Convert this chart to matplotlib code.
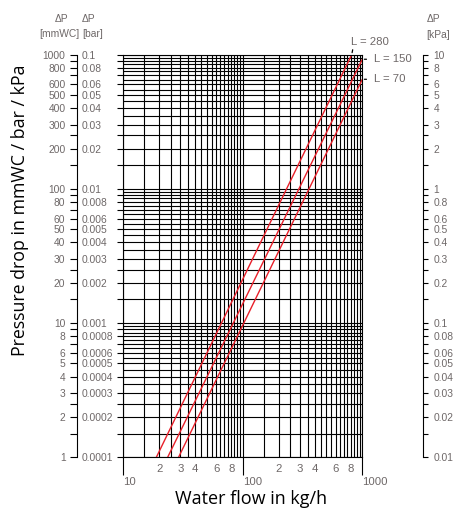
import numpy as np
import matplotlib
matplotlib.use("Agg")
import matplotlib.pyplot as plt
from matplotlib import font_manager
from matplotlib.ticker import FixedLocator, FixedFormatter, NullFormatter

# ---------------- data ----------------
series_names = ["L = 280", "L = 150", "L = 70"]
flow_L280 = [18.9, 815.0]
dp_L280 = [1.0, 1000.0]
flow_L150 = [23.5, 1000.0]
dp_L150 = [1.0, 925.0]
flow_L70 = [29.0, 1000.0]
dp_L70 = [1.0, 656.0]

x_major = [10, 100, 1000]
x_major_labels = ["10", "100", "1000"]
x_minor_labelled = [2, 3, 4, 6, 8]
grid_steps = [1, 1.5, 2, 2.5, 3, 3.5, 4, 4.5, 5, 5.5, 6, 6.5, 7, 7.5, 8, 8.5, 9, 9.5]
scale_steps = [1, 1.5, 2, 2.5, 3, 4, 5, 6, 7, 8, 9]
scale_labelled = [1, 2, 3, 4, 5, 6, 8]
mmwc_labels = ["1", "2", "3", "4", "5", "6", "8",
               "10", "20", "30", "40", "50", "60", "80",
               "100", "200", "300", "400", "500", "600", "800", "1000"]
bar_labels = ["0.0001", "0.0002", "0.0003", "0.0004", "0.0005", "0.0006", "0.0008",
              "0.001", "0.002", "0.003", "0.004", "0.005", "0.006", "0.008",
              "0.01", "0.02", "0.03", "0.04", "0.05", "0.06", "0.08", "0.1"]
kpa_labels = ["0.01", "0.02", "0.03", "0.04", "0.05", "0.06", "0.08",
              "0.1", "0.2", "0.3", "0.4", "0.5", "0.6", "0.8",
              "1", "2", "3", "4", "5", "6", "8", "10"]

# ---------------- style ----------------
names = {f.name for f in font_manager.fontManager.ttflist}
tick_font = "Liberation Sans" if "Liberation Sans" in names else "DejaVu Sans"
title_font = "Open Sans" if "Open Sans" in names else "DejaVu Sans"
GRAY = "#6e6868"
RED = "#e8202a"
TFS = 7.4

W, H = 453, 513
def fx(p): return p / W
def fy(p): return 1 - p / H

fig = plt.figure(figsize=(W / 100, H / 100), dpi=100)

X0, X1, Y0, Y1 = 123.3, 362.3, 457.3, 54.7
ax = fig.add_axes([fx(X0), fy(Y0), fx(X1) - fx(X0), fy(Y1) - fy(Y0)])
ax.set_xscale("log")
ax.set_yscale("log")
ax.set_xlim(10, 1000)
ax.set_ylim(1, 1000)

decs_x = [10, 100]
decs_y = [1, 10, 100]
x_minor = [m * d for d in decs_x for m in grid_steps if m != 1]
ax.xaxis.set_major_locator(FixedLocator(x_major))
ax.xaxis.set_major_formatter(FixedFormatter(x_major_labels))
ax.xaxis.set_minor_locator(FixedLocator(x_minor))
ax.xaxis.set_minor_formatter(FixedFormatter(
    [(str(int(m)) if m in x_minor_labelled else "") for d in decs_x for m in grid_steps if m != 1]))

y_major = [m * d for d in decs_y for m in scale_steps] + [1000]
y_minor = [m * d for d in decs_y for m in grid_steps if m not in scale_steps]
ax.yaxis.set_major_locator(FixedLocator(y_major))
ax.yaxis.set_major_formatter(NullFormatter())
ax.yaxis.set_minor_locator(FixedLocator(y_minor))
ax.yaxis.set_minor_formatter(NullFormatter())

ax.grid(True, which="both", color="black", lw=0.8)
ax.set_axisbelow(True)
ax.tick_params(axis="x", which="major", direction="out", length=13, width=0.8,
               pad=1.5, labelsize=TFS + 0.8, labelcolor=GRAY, color="black")
ax.tick_params(axis="x", which="minor", length=0, pad=5.0, labelsize=TFS + 0.8, labelcolor=GRAY)
ax.tick_params(axis="y", which="major", direction="out", length=4, width=0.8)
ax.tick_params(axis="y", which="minor", length=0)
for lbl in ax.get_xticklabels(which="both"):
    lbl.set_fontfamily(tick_font)
for lbl in ax.get_xticklabels():
    lbl.set_ha("left")
for s in ax.spines.values():
    s.set_linewidth(0.8)

series = [(flow_L280, dp_L280), (flow_L150, dp_L150), (flow_L70, dp_L70)]
for (q, dp) in series:
    ax.plot(q, dp, color=RED, lw=1.0, solid_capstyle="butt")

# curve labels
ax.annotate(series_names[0], xy=(flow_L280[-1], dp_L280[-1]), xytext=(-0.5, 7),
            textcoords="offset points", ha="left", va="baseline", fontsize=TFS + 0.8,
            color=GRAY, family=tick_font, annotation_clip=False,
            arrowprops=dict(arrowstyle="-", color="black", lw=0.9, relpos=(0.06, 0),
                            shrinkA=0, shrinkB=1.5))
for name, q, dp in [(series_names[1], flow_L150, dp_L150), (series_names[2], flow_L70, dp_L70)]:
    ax.annotate(name, xy=(q[-1], dp[-1]), xytext=(8.5, 0), textcoords="offset points",
                ha="left", va="center", fontsize=TFS + 0.8, color=GRAY, family=tick_font,
                annotation_clip=False,
                arrowprops=dict(arrowstyle="-", color="black", lw=0.9, relpos=(0, 0.5),
                                shrinkA=3.5, shrinkB=1.5))

# left scale (mmWC / bar)
ticks_all = [m * d for d in decs_y for m in scale_steps] + [1000]
ticks_lab = [m * d for d in decs_y for m in scale_labelled] + [1000]

axl = fig.add_axes([fx(77.3), fy(Y0), 0.0004, fy(Y1) - fy(Y0)])
axl.set_yscale("log")
axl.set_ylim(1, 1000)
axl.patch.set_visible(False)
axl.xaxis.set_visible(False)
for k in ["top", "right", "bottom"]:
    axl.spines[k].set_visible(False)
axl.spines["left"].set_linewidth(0.8)
axl.yaxis.set_major_locator(FixedLocator(ticks_all))
axl.yaxis.set_major_formatter(FixedFormatter(
    [(mmwc_labels[ticks_lab.index(t)] if t in ticks_lab else "") for t in ticks_all]))
axl.yaxis.set_minor_locator(FixedLocator([]))
axl.tick_params(axis="y", direction="out", length=5, width=0.8, pad=3.5,
                labelsize=TFS, labelcolor=GRAY)
for lbl in axl.get_yticklabels():
    lbl.set_fontfamily(tick_font)

axb = axl.twinx()
axb.set_yscale("log")
axb.set_ylim(1e-4, 1e-1)
for s in axb.spines.values():
    s.set_visible(False)
axb.yaxis.set_major_locator(FixedLocator([t * 1e-4 for t in ticks_lab]))
axb.yaxis.set_major_formatter(FixedFormatter(bar_labels))
axb.yaxis.set_minor_locator(FixedLocator([]))
axb.tick_params(axis="y", length=0, pad=3.3, labelsize=TFS, labelcolor=GRAY)
for lbl in axb.get_yticklabels():
    lbl.set_fontfamily(tick_font)

# right scale (kPa)
axr = fig.add_axes([fx(423.3) - 0.0004, fy(Y0), 0.0004, fy(Y1) - fy(Y0)])
axr.set_yscale("log")
axr.set_ylim(0.01, 10)
axr.patch.set_visible(False)
axr.xaxis.set_visible(False)
for k in ["top", "left", "bottom"]:
    axr.spines[k].set_visible(False)
axr.spines["right"].set_linewidth(0.8)
axr.yaxis.tick_right()
axr.yaxis.set_major_locator(FixedLocator([t * 0.01 for t in ticks_all]))
axr.yaxis.set_major_formatter(FixedFormatter(
    [(kpa_labels[ticks_lab.index(t)] if t in ticks_lab else "") for t in ticks_all]))
axr.yaxis.set_minor_locator(FixedLocator([]))
axr.tick_params(axis="y", direction="out", length=3.5, width=0.8, pad=4.0,
                labelsize=TFS, labelcolor=GRAY)
for lbl in axr.get_yticklabels():
    lbl.set_fontfamily(tick_font)

# headers
hk = dict(fontsize=TFS, color=GRAY, family=tick_font, va="center")
fig.text(fx(62), fy(18.5), "ΔP", ha="center", **hk)
fig.text(fx(59.5), fy(34), "[mmWC]", ha="center", **hk)
fig.text(fx(82), fy(18.5), "ΔP", ha="left", **hk)
fig.text(fx(82), fy(34), "[bar]", ha="left", **hk)
fig.text(fx(426.5), fy(19.5), "ΔP", ha="left", **hk)
fig.text(fx(426.5), fy(35.5), "[kPa]", ha="left", **hk)

# axis titles
fig.text(fx(251), fy(504), "Water flow in kg/h", ha="center", va="baseline",
         fontsize=13, family=title_font, color="black")
fig.text(fx(20), fy(210), "Pressure drop in mmWC / bar / kPa", ha="center", va="center",
         rotation=90, fontsize=12.8, family=title_font, color="black")

fig.savefig("out.png", dpi=100)
